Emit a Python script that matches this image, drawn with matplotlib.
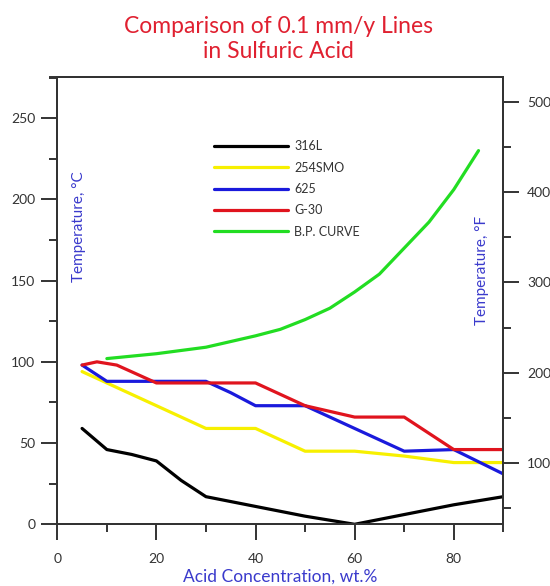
import matplotlib.pyplot as plt
from matplotlib.ticker import MultipleLocator

# --- Data ---
x_316l = [5, 10, 15, 20, 25, 30, 40, 50, 60, 70, 80, 90]
y_316l = [59, 46, 43, 39, 27, 17, 11, 5, 0, 6, 12, 17]

x_254smo = [5, 10, 20, 30, 35, 40, 45, 50, 60, 70, 80, 90]
y_254smo = [94, 87, 73, 59, 59, 59, 52, 45, 45, 42, 38, 38]

x_625 = [5, 10, 15, 20, 30, 35, 40, 45, 50, 60, 70, 80, 90]
y_625 = [98, 88, 88, 88, 88, 81, 73, 73, 73, 59, 45, 46, 31]

x_g30 = [5, 8, 12, 20, 30, 40, 45, 50, 60, 70, 75, 80, 90]
y_g30 = [98, 100, 98, 87, 87, 87, 80, 73, 66, 66, 56, 46, 46]

x_bp = [10, 20, 30, 40, 45, 50, 55, 60, 65, 70, 75, 80, 85]
y_bp = [102, 105, 109, 116, 120, 126, 133, 143, 154, 170, 186, 206, 230]

series = [
    ("316L", x_316l, y_316l, "black"),
    ("254SMO", x_254smo, y_254smo, "#f7f000"),
    ("625", x_625, y_625, "#1a1adc"),
    ("G-30", x_g30, y_g30, "#e0141e"),
    ("B.P. CURVE", x_bp, y_bp, "#22dd22"),
]

C_MAX = 275.5  # top of the Celsius axis

plt.rcParams['font.family'] = ['Lato', 'DejaVu Sans']

fig = plt.figure(figsize=(5.5, 5.86), dpi=100)
ax = fig.add_axes([57.3 / 550, 1 - 524.3 / 586, 446 / 550, 447.6 / 586])

for name, xs, ys, col in series:
    ax.plot(xs, ys, color=col, linewidth=2.3, label=name, solid_capstyle='round')

ax.set_xlim(0, 90)
ax.set_ylim(0, C_MAX)
ax.xaxis.set_major_locator(MultipleLocator(20))
ax.xaxis.set_minor_locator(MultipleLocator(10))
ax.yaxis.set_major_locator(MultipleLocator(50))
ax.yaxis.set_minor_locator(MultipleLocator(25))

# Fahrenheit scale on the right, tied to the Celsius one
ax2 = ax.twinx()
ax2.set_ylim(32, C_MAX * 1.8 + 32)
ax2.yaxis.set_major_locator(MultipleLocator(100))
ax2.yaxis.set_minor_locator(MultipleLocator(50))

spine_col = "#333333"
for a in (ax, ax2):
    for s in a.spines.values():
        s.set_color(spine_col)
        s.set_linewidth(1.4)
    a.tick_params(which='major', direction='out', length=11.5, width=1.4,
                  color=spine_col, labelsize=10, labelcolor="#333333", pad=4.3)
    a.tick_params(which='minor', direction='out', length=5.8, width=1.4,
                  color=spine_col)
ax.tick_params(top=False, right=False, which='both')
ax.tick_params(axis='x', which='major', pad=9)
ax2.tick_params(axis='y', which='major', pad=5.5)
# top frame line sticks out a little past the left spine
ax2.spines['top'].set_bounds(-1.4, 90)
ax2.spines['top'].set_clip_on(False)

label_col = "#3a3acc"
ax.text(0.049, 0.665, "Temperature, °C", transform=ax.transAxes, rotation=90,
        ha='center', va='center', color=label_col, fontsize=11)
ax.text(0.953, 0.567, "Temperature, °F", transform=ax.transAxes, rotation=90,
        ha='center', va='center', color=label_col, fontsize=11)
ax.set_xlabel("Acid Concentration, wt.%", color=label_col, fontsize=12.5)
ax.xaxis.set_label_coords(0.5, -0.1)

leg = ax.legend(loc='upper left', bbox_to_anchor=(0.327, 0.883), frameon=False,
                fontsize=9, handlelength=5.9, labelspacing=0.75, handletextpad=0.5)
for t in leg.get_texts():
    t.set_color("#333333")

fig.text(0.507, 1 - 39 / 586, "Comparison of 0.1 mm/y Lines\nin Sulfuric Acid",
         ha='center', va='center', color="#e02030", fontsize=16.5, linespacing=1.25)

fig.savefig("out.png", dpi=100)
